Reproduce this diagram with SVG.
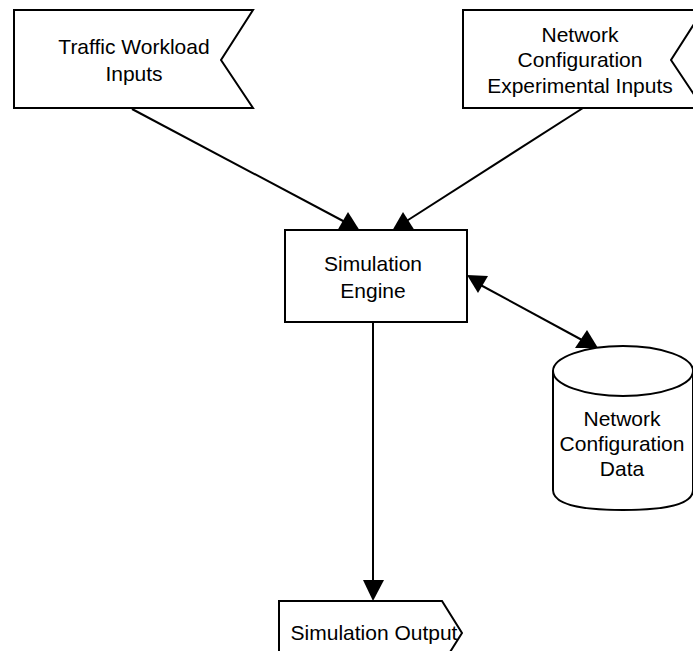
<svg xmlns="http://www.w3.org/2000/svg" width="693" height="651" viewBox="0 0 693 651">
<style>
.s{fill:#fff;stroke:#000;stroke-width:2}
.t{font-family:"Liberation Sans",Arial,sans-serif;font-size:21px;fill:#000;text-anchor:middle}
.c{stroke:#000;stroke-width:2;fill:none}
.h{fill:#000;stroke:none}
</style>
<rect width="693" height="651" fill="#fff"/>
<g id="traffic">
<path class="s" d="M14,10 H253 L221,60 L253,108 H14 Z"/>
<text class="t" x="134" y="54">Traffic Workload</text>
<text class="t" x="134" y="81">Inputs</text>
</g>
<g id="netinputs">
<path class="s" d="M463,10 H703 L671,60 L703,108 H463 Z"/>
<text class="t" x="580" y="42">Network</text>
<text class="t" x="580" y="67">Configuration</text>
<text class="t" x="580" y="93">Experimental Inputs</text>
</g>
<g id="engine">
<rect class="s" x="285" y="230" width="182" height="92"/>
<text class="t" x="373" y="271">Simulation</text>
<text class="t" x="373" y="298">Engine</text>
</g>
<g id="netdata">
<path class="s" d="M553,371 V490 Q553,510 623,510 Q693,510 693,490 V371"/>
<ellipse class="s" cx="623" cy="371" rx="70" ry="25"/>
<text class="t" x="622" y="426">Network</text>
<text class="t" x="622" y="451">Configuration</text>
<text class="t" x="622" y="476">Data</text>
</g>
<g id="output">
<path class="s" d="M279,660 V601 H442 L462,633 L440,668"/>
<text class="t" x="374" y="640">Simulation Output</text>
</g>
<g id="connectors">
<line class="c" x1="132" y1="109" x2="345" y2="222"/>
<polygon class="h" points="348,212 360,231 337,231"/>
<line class="c" x1="583" y1="108" x2="405" y2="222"/>
<polygon class="h" points="403,212 415,231 392,231"/>
<line class="c" x1="475" y1="282" x2="582" y2="340"/>
<polygon class="h" points="467,275 488,276 478,293"/>
<polygon class="h" points="587,330 598,348 575,348"/>
<line class="c" x1="373" y1="322" x2="373" y2="585"/>
<polygon class="h" points="363,580 384,580 373,601"/>
</g>
</svg>
